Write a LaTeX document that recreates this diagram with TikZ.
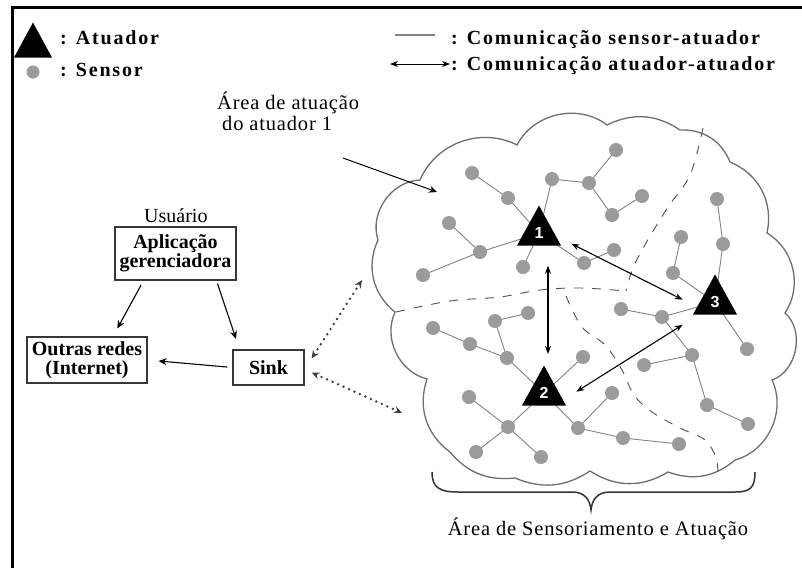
\documentclass[tikz,border=0pt]{standalone}
\usepackage{fontspec}
\setmainfont{Liberation Serif}
\newfontfamily\numfont{Liberation Sans}
\newfontfamily\trackedserif{Liberation Serif}[LetterSpace=4.0]
\newfontfamily\widebold{Liberation Serif}[LetterSpace=9.0]
\usetikzlibrary{arrows.meta,shapes.geometric}

\pgfdeclarelayer{back}
\pgfsetlayers{back,main}

\definecolor{sensorgray}{RGB}{155,155,155}
\definecolor{linkgray}{RGB}{130,130,130}
\definecolor{cloudgray}{RGB}{110,110,110}
\definecolor{dashgray}{RGB}{80,80,80}
\definecolor{boxline}{RGB}{55,55,55}

\tikzset{
  sensor/.style={circle, fill=sensorgray, minimum size=14pt, inner sep=0pt},
  link/.style={draw=linkgray, line width=0.9pt},
  actuator/.style={isosceles triangle, shape border rotate=90,
    isosceles triangle stretches, minimum width=44pt, minimum height=40pt,
    fill=black, inner sep=0pt, text=white,
    font=\numfont\bfseries\fontsize{16}{16}\selectfont},
  commarrow/.style={{Stealth[length=8pt,width=6pt]}-{Stealth[length=8pt,width=6pt]}, line width=1.1pt},
  plainarrow/.style={-{Stealth[length=8pt,width=7pt]}, line width=1.1pt},
  dotarrow/.style={{Stealth[length=8pt,width=7pt]}-{Stealth[length=8pt,width=7pt]},
    draw=black!75, line width=2.7pt, dash pattern=on 0pt off 6pt, line cap=round},
  box/.style={draw=boxline, line width=1.3pt, inner sep=0pt, align=center,
    font=\bfseries\fontsize{20}{19}\selectfont},
  legtext/.style={inner sep=0pt, font=\widebold\bfseries\fontsize{20}{20}\selectfont},
  plaintext/.style={inner sep=0pt, font=\trackedserif\fontsize{20.5}{21}\selectfont},
  cloudline/.style={draw=cloudgray, line width=1.3pt},
  boundary/.style={draw=dashgray, line width=0.9pt, dash pattern=on 9pt off 9pt},
}

\begin{document}
\begin{tikzpicture}[x=1pt,y=-1pt]
\useasboundingbox (0,0) rectangle (802,568);
\begin{pgfonlayer}{back}
\fill[white] (0,0) rectangle (802,568);
\end{pgfonlayer}

% frame (only the left and top edges are inside the page)
\draw[line width=3pt] (12.5,568) -- (12.5,7.5) -- (802,7.5);

% ---------- legend ----------
\node[actuator, anchor=apex, minimum width=38pt, minimum height=35pt] (legact) at (33,22) {};
\node[legtext, anchor=base west] (legacttext) at (60,44) {: Atuador};
\node[sensor, minimum size=13pt] (legsens) at (33,72) {};
\node[legtext, anchor=base west] (legsenstext) at (60,76) {: Sensor};
\node[legtext, anchor=base west] (legsa) at (451,44) {: Comunicação sensor-atuador};
\node[legtext, anchor=base west] (legaa) at (451,70) {: Comunicação atuador-atuador};
\coordinate (legline1) at (395,35);
\coordinate (legline2) at (435,35);
\draw[link, line width=1.4pt] (legline1) -- (legline2);
\coordinate (legarr1) at (390,64);
\coordinate (legarr2) at (450,64);
\draw[commarrow, line width=1pt] (legarr1) -- (legarr2);

% ---------- sensing / actuation field ----------
\begin{pgfonlayer}{back}
\draw[cloudline] (378,240) to[bend left=53] (420,180) to[bend left=47] (517,145)
  to[bend left=50] (607,125) to[bend left=30] (680,130) to[bend left=35] (730,162)
  to[bend left=40] (767,233) to[bend left=46] (785,313) to[bend left=60] (772,380)
  to[bend left=50] (735,460) to[bend left=30] (668,472) to[bend left=32] (590,471)
  to[bend left=28] (515,478) to[bend left=28] (450,452) to[bend left=36] (427,379)
  to[bend left=50] (395,312) to[bend left=38] (378,240);
% borders between the actuation areas
\draw[boundary] plot[smooth, tension=0.6] coordinates {(703,128) (690,175) (668,207) (646,243) (633,268) (626,291)};
\draw[boundary] plot[smooth, tension=0.6] coordinates {(396,312) (450,301) (500,297) (540,290) (580,288) (626,291)};
\draw[boundary] plot[smooth, tension=0.6] coordinates {(566,296) (582,327) (605,345) (622,370) (634,395) (652,412) (680,428) (705,440) (716,458) (718,476)};
\end{pgfonlayer}

% actuators
\node[actuator, anchor=apex] (a1) at (539,205) {1};
\node[actuator, anchor=apex] (a2) at (544,365) {2};
\node[actuator, anchor=apex] (a3) at (715,274) {3};

% sensors around actuator 1
\node[sensor] (s1) at (472,173) {};
\node[sensor] (s2) at (508,198) {};
\node[sensor] (s3) at (552,179) {};
\node[sensor] (s4) at (589,183) {};
\node[sensor] (s5) at (616,150) {};
\node[sensor] (s6) at (612,215) {};
\node[sensor] (s7) at (642,196) {};
\node[sensor] (s8) at (449,223) {};
\node[sensor] (s9) at (480,252) {};
\node[sensor] (s10) at (423,275) {};
\node[sensor] (s11) at (523,267) {};
\node[sensor] (s12) at (584,263) {};
\node[sensor] (s13) at (614,250) {};
% sensors around actuator 3
\node[sensor] (s14) at (717,199) {};
\node[sensor] (s15) at (723,244) {};
\node[sensor] (s16) at (681,237) {};
\node[sensor] (s17) at (673,273) {};
\node[sensor] (s18) at (621,309) {};
\node[sensor] (s19) at (662,317) {};
\node[sensor] (s20) at (747,349) {};
\node[sensor] (s21) at (692,355) {};
\node[sensor] (s22) at (644,365) {};
\node[sensor] (s23) at (707,405) {};
\node[sensor] (s24) at (748,424) {};
% sensors around actuator 2
\node[sensor] (s25) at (433,328) {};
\node[sensor] (s26) at (470,344) {};
\node[sensor] (s27) at (507,358) {};
\node[sensor] (s28) at (495,321) {};
\node[sensor] (s29) at (528,313) {};
\node[sensor] (s30) at (583,357) {};
\node[sensor] (s31) at (469,397) {};
\node[sensor] (s32) at (508,427) {};
\node[sensor] (s33) at (476,452) {};
\node[sensor] (s34) at (541,457) {};
\node[sensor] (s35) at (578,428) {};
\node[sensor] (s36) at (612,393) {};
\node[sensor] (s37) at (623,438) {};
\node[sensor] (s38) at (679,444) {};

% sensor-actuator links
\begin{pgfonlayer}{back}
\draw[link] (s1.center) -- (s2.center) -- (a1.center) -- (s3.center) -- (s4.center) -- (s5.center);
\draw[link] (s4.center) -- (s6.center) -- (s7.center);
\draw[link] (s8.center) -- (s9.center) -- (s10.center);
\draw[link] (s9.center) -- (a1.center) -- (s11.center);
\draw[link] (a1.center) -- (s12.center) -- (s13.center);
\draw[link] (s14.center) -- (s15.center) -- (a3.center);
\draw[link] (s16.center) -- (s17.center) -- (a3.center);
\draw[link] (a3.center) -- (s19.center) -- (s18.center);
\draw[link] (s19.center) -- (s21.center) -- (s22.center);
\draw[link] (s21.center) -- (s23.center) -- (s24.center);
\draw[link] (a3.center) -- (s20.center);
\draw[link] (s25.center) -- (s26.center) -- (s27.center) -- (a2.center) -- (s30.center);
\draw[link] (s29.center) -- (s28.center) -- (s27.center);
\draw[link] (a2.center) -- (s32.center) -- (s31.center);
\draw[link] (s33.center) -- (s32.center) -- (s34.center);
\draw[link] (a2.center) -- (s35.center) -- (s36.center);
\draw[link] (s35.center) -- (s37.center) -- (s38.center);
\end{pgfonlayer}

% actuator-actuator communication
\draw[commarrow] ([shift={(9,20)}]a1.south) -- ([shift={(4,-11)}]a2.apex);
\draw[commarrow] ([shift={(10,-2)}]a1.right corner) -- ([shift={(-10,-15)}]a3.left corner);
\draw[commarrow] ([shift={(10,-14)}]a2.right corner) -- ([shift={(-10,10)}]a3.left corner);

% ---------- user side ----------
\node[inner sep=0pt, font=\fontsize{20}{20}\selectfont, anchor=base west] (user) at (144,222) {Usuário};
\node[box, minimum width=121pt, minimum height=53pt] (app) at (175.5,253.5) {Aplicação\\gerenciadora};
\node[box, minimum width=120pt, minimum height=46pt] (other) at (87,360) {Outras redes\\(Internet)};
\node[box, minimum width=71pt, minimum height=35pt] (sink) at (268.5,367.5) {Sink};

\draw[plainarrow, shorten <=5pt, shorten >=9pt] ([xshift=-32pt]app.south) -- ([xshift=26pt]other.north);
\draw[plainarrow, shorten <=3pt, shorten >=11pt] ([xshift=41pt]app.south) -- ([xshift=-29pt]sink.north);
\draw[plainarrow, shorten <=5pt, shorten >=11pt] (sink.west) -- (other.east);

% sink to the field
\coordinate (fieldup) at (362,280);
\coordinate (fielddown) at (402,413);
\draw[dotarrow] ([shift={(7,-9)}]sink.east) -- (fieldup);
\draw[dotarrow] ([shift={(7,5)}]sink.east) -- (fielddown);

% area of actuator 1
\node[plaintext, anchor=base west, align=left] (arealabel) at (217,130) {Área de atuação\\\hspace*{5pt}do atuador 1};
\coordinate (areatip) at (437,192);
\draw[plainarrow, line width=1pt] (343,158) -- (areatip);

% brace under the field
\draw[draw=black!80, line width=1.5pt] (432,472) .. controls (432,488) and (440,492) .. (458,492)
  -- (572,492) .. controls (585,492) and (590,500) .. (591,510)
  .. controls (592,500) and (597,492) .. (610,492) -- (735,492)
  .. controls (750,492) and (755,488) .. (755,472);
\node[plaintext, anchor=base] (fieldlabel) at (598,535) {Área de Sensoriamento e Atuação};
\end{tikzpicture}
\end{document}
